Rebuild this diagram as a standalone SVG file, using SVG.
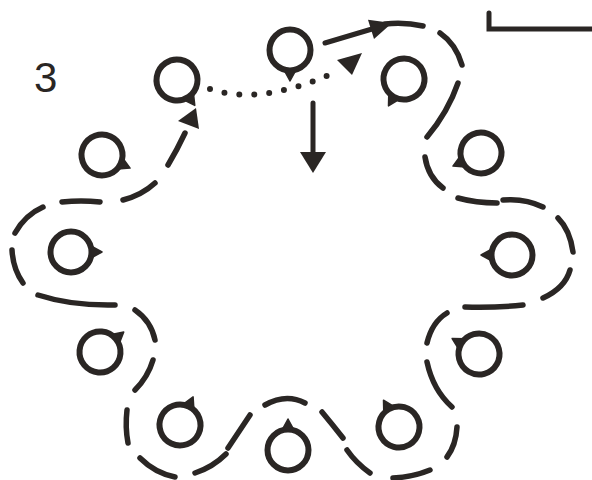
<svg xmlns="http://www.w3.org/2000/svg" width="592" height="480" viewBox="0 0 592 480">
<defs>
<style>
.ring{fill:none;stroke:#2a2624;stroke-width:6}
.tip{fill:#2a2624;stroke:#2a2624;stroke-width:1.5;stroke-linejoin:round}
.dash{fill:none;stroke:#2a2624;stroke-width:5.5;stroke-linecap:round}
.solid{fill:none;stroke:#2a2624;stroke-width:5;stroke-linecap:round}
.dots{fill:none;stroke:#2a2624;stroke-width:6;stroke-linecap:round;stroke-dasharray:0 15}
.head{fill:#2a2624}
</style>
<g id="walker"><circle class="ring" r="20.5"/><path class="tip" d="M20,-6 L31,0 L20,6 Z"/></g>
</defs>
<rect width="592" height="480" fill="#ffffff"/>
<text x="34" y="92" font-family="'Liberation Sans', Arial, sans-serif" font-size="42" fill="#2a2624">3</text>
<path class="solid" d="M489,13 L489,29 L592,29"/>
<g id="nodes">
<g id="nA" transform="translate(290,50) rotate(90)"><use href="#walker"/></g>
<g id="nB" transform="translate(177,80) rotate(55)"><use href="#walker"/></g>
<g id="nC" transform="translate(102,155) rotate(25)"><use href="#walker"/></g>
<g id="nD" transform="translate(71,252) rotate(0)"><use href="#walker"/></g>
<g id="nE" transform="translate(100,352) rotate(-40)"><use href="#walker"/></g>
<g id="nF" transform="translate(180,425) rotate(-65)"><use href="#walker"/></g>
<g id="nG" transform="translate(288,450) rotate(-90)"><use href="#walker"/></g>
<g id="nH" transform="translate(399,427) rotate(-120)"><use href="#walker"/></g>
<g id="nI" transform="translate(479,354) rotate(-150)"><use href="#walker"/></g>
<g id="nJ" transform="translate(512,255) rotate(180)"><use href="#walker"/></g>
<g id="nK" transform="translate(481,153) rotate(155)"><use href="#walker"/></g>
<g id="nL" transform="translate(404,79) rotate(120)"><use href="#walker"/></g>
</g>
<g id="connectors">
<path class="solid" d="M325,43 L372,29"/>
<polygon class="head" points="392,23 368,19.7 374,38.9"/>
<path class="solid" d="M313,103 L313,155"/>
<polygon class="head" points="300,152 326,152 313,173"/>
<path class="dots" d="M210,89 Q258,106 334,73"/>
<polygon class="head" points="362,53 337,60 352,75"/>
<g id="weave">
<path class="dash" d="M385,24 Q405,22 423,26"/>
<path class="dash" d="M440,33 Q456,44 462,65"/>
<path class="dash" d="M458,83 Q448,112 427,137"/>
<path class="dash" d="M425,157 Q428,177 443,188"/>
<path class="dash" d="M458,198 Q476,203 497,203"/>
<path class="dash" d="M503,200 Q525,198 543,207"/>
<path class="dash" d="M558,218 Q570,230 573,252"/>
<path class="dash" d="M570,270 Q565,288 543,298"/>
<path class="dash" d="M523,305 Q494,308 465,307"/>
<path class="dash" d="M447,313 Q432,322 427,343"/>
<path class="dash" d="M427,362 Q433,390 452,407"/>
<path class="dash" d="M457,427 Q456,445 447,457"/>
<path class="dash" d="M430,470 Q413,477 393,478"/>
<path class="dash" d="M370,473 Q356,463 347,450"/>
<path class="dash" d="M343,438 Q332,424 322,412"/>
<path class="dash" d="M305,403 Q286,393 265,405"/>
<path class="dash" d="M250,415 Q240,430 228,448"/>
<path class="dash" d="M226,454 Q213,467 195,473"/>
<path class="dash" d="M175,477 Q155,473 140,458"/>
<path class="dash" d="M128,443 Q125,427 127,410"/>
<path class="dash" d="M135,390 Q148,377 153,360"/>
<path class="dash" d="M155,340 Q151,321 135,310"/>
<path class="dash" d="M115,305 Q72,306 38,295"/>
<path class="dash" d="M23,283 Q13,269 12,250"/>
<path class="dash" d="M15,233 Q25,215 43,207"/>
<path class="dash" d="M62,202 Q81,200 100,202"/>
<path class="dash" d="M123,200 Q142,195 155,183"/>
<path class="dash" d="M168,165 Q177,150 185,133"/>
<polygon class="head" points="196,108 178,121 199,129"/>
</g>
</g>
</svg>
